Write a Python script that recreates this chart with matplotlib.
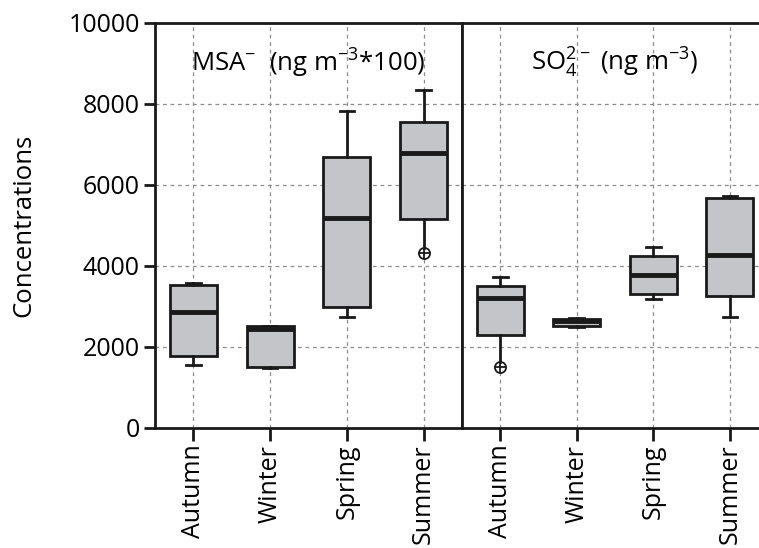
import numpy as np
import matplotlib.pyplot as plt

plt.rcParams['font.family'] = ['Open Sans', 'DejaVu Sans']
plt.rcParams['mathtext.fontset'] = 'custom'
plt.rcParams['mathtext.rm'] = 'Open Sans'
plt.rcParams['mathtext.it'] = 'Open Sans'

# Estaciones
estaciones = ["Autumn", "Winter", "Spring", "Summer"]

# MSA- (ng m-3 * 100): whisker low, q1, median, q3, whisker high
msa_low = [1560, 1490, 2730, 4440]
msa_q1 = [1785, 1515, 2995, 5160]
msa_med = [2870, 2440, 5175, 6775]
msa_q3 = [3530, 2515, 6695, 7560]
msa_high = [3570, 2520, 7820, 8330]
msa_out = [[], [], [], [4325]]

# SO4 2- (ng m-3)
so4_low = [1630, 2500, 3175, 2745]
so4_q1 = [2295, 2520, 3305, 3265]
so4_med = [3200, 2640, 3775, 4270]
so4_q3 = [3510, 2690, 4250, 5665]
so4_high = [3735, 2720, 4465, 5725]
so4_out = [[1515], [], [], []]

titulos = [r"MSA$^{\mathregular{-}}$  (ng m$^{\mathregular{-3}}$*100)",
           r"SO$_{\mathregular{4}}^{\mathregular{2-}}$ (ng m$^{\mathregular{-3}}$)"]


def armar_stats(low, q1, med, q3, high, out):
    stats = []
    for i in range(len(med)):
        stats.append(dict(whislo=low[i], q1=q1[i], med=med[i], q3=q3[i],
                          whishi=high[i], fliers=out[i], label=estaciones[i]))
    return stats


def graficar_panel(ax, stats, titulo, mostrar_y):
    pos = np.arange(1, len(stats) + 1)
    cajas = ax.bxp(stats, positions=pos, widths=0.61, patch_artist=True, showfliers=True,
                   boxprops=dict(facecolor='#c4c5c9', edgecolor='#1a1a1a', linewidth=2),
                   medianprops=dict(color='#1a1a1a', linewidth=3.5),
                   whiskerprops=dict(color='#1a1a1a', linewidth=2),
                   capprops=dict(color='#1a1a1a', linewidth=2),
                   capwidths=0.19,
                   flierprops=dict(marker='o', markerfacecolor='none', markeredgecolor='#1a1a1a',
                                   markersize=8, markeredgewidth=1.3))
    for i, s in enumerate(stats):
        if len(s['fliers']) > 0:
            # el bigote inferior llega hasta el punto atipico, sin tapa
            cajas['caps'][2 * i].set_visible(False)
            ax.plot([pos[i]] * len(s['fliers']), s['fliers'], marker='+', ls='none',
                    color='#1a1a1a', markersize=8, markeredgewidth=1.3)
    ax.set_xlim(0.5, 4.5)
    ax.set_ylim(0, 10000)
    ax.set_xticks(pos)
    ax.set_xticklabels(estaciones, rotation=90, fontsize=18)
    ax.set_yticks(np.arange(0, 10001, 2000))
    ax.grid(True, color='#8c8c8c', linestyle=(0, (3, 3)), linewidth=0.9)
    ax.set_axisbelow(True)
    ax.tick_params(axis='x', direction='out', length=9, width=2, color='#1a1a1a', pad=3)
    ax.tick_params(axis='y', direction='out', length=8, width=2, color='#1a1a1a',
                   labelsize=18, left=mostrar_y, labelleft=mostrar_y, pad=3)
    for sp in ax.spines.values():
        sp.set_linewidth(2)
        sp.set_color('#1a1a1a')
    ax.text(0.5, 0.9, titulo, transform=ax.transAxes, ha='center', va='center',
            fontsize=18.5)


fig = plt.figure(figsize=(7.59, 5.48), dpi=100)
ax1 = fig.add_axes([0.2042, 0.219, 0.4045, 0.7396])
ax2 = fig.add_axes([0.6087, 0.219, 0.4032, 0.7396])

graficar_panel(ax1, armar_stats(msa_low, msa_q1, msa_med, msa_q3, msa_high, msa_out),
               titulos[0], True)
graficar_panel(ax2, armar_stats(so4_low, so4_q1, so4_med, so4_q3, so4_high, so4_out),
               titulos[1], False)
ax2.spines['right'].set_visible(False)

ax1.set_ylabel("Concentrations", fontsize=18.5)
ax1.yaxis.set_label_coords(-0.385, 0.5)

fig.savefig("out.png", dpi=100)
